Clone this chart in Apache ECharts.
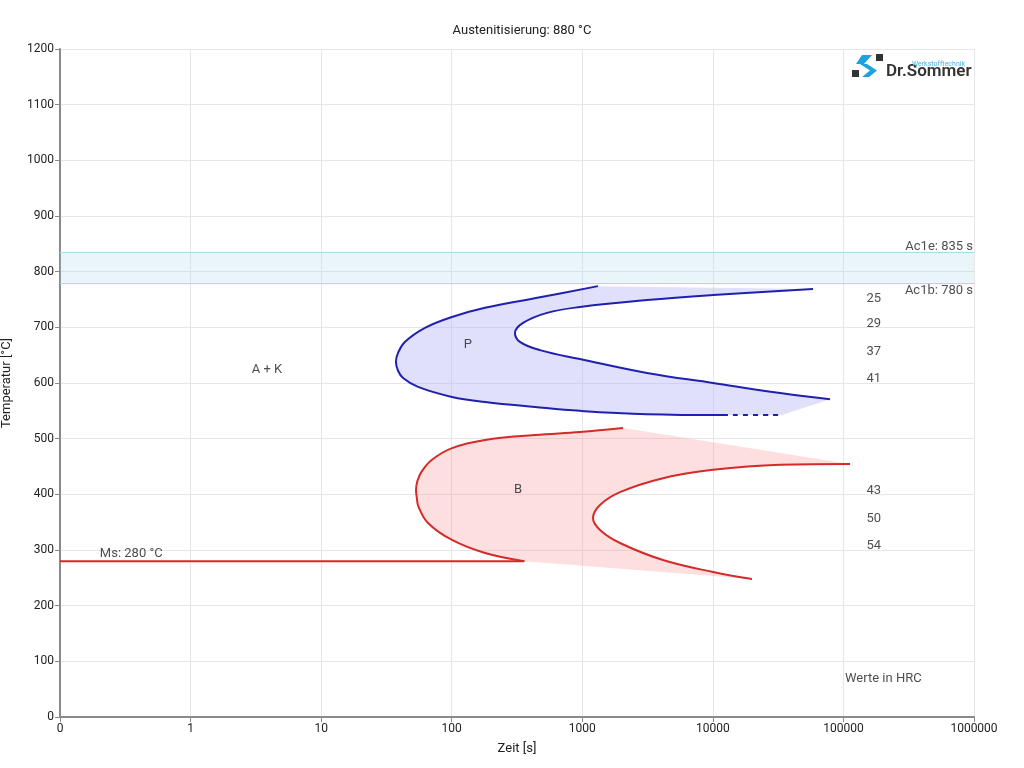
<!DOCTYPE html>
<html>
<head>
<meta charset="utf-8">
<title>ZTU Diagramm</title>
<script src="https://cdn.jsdelivr.net/npm/echarts@6/dist/echarts.min.js"></script>
<style>
  html, body { margin: 0; padding: 0; background: #fff; }
  #chart { width: 1024px; height: 768px; }
</style>
</head>
<body>
<div id="chart"></div>
<script>
// Perlit: Beginn (aussen) und Ende (innen), [Zeit s, Temperatur °C]
var perlitStart = [[1320, 774], [474, 754], [180, 735], [100.5, 718.6], [62.4, 699], [43.9, 674], [38.8, 654],
  [37.4, 638], [38.8, 622], [42.4, 609], [55.2, 593], [100.5, 575], [180, 566], [434, 557], [961, 550],
  [3130, 544], [11960, 542.5]];
var perlitDash = [[11960, 542.5], [33870, 542.5]];
var perlitEnde = [[58500, 769], [10030, 758], [3130, 749], [961, 736.5], [537, 726], [352, 708], [305, 690],
  [333, 674], [474, 659], [961, 643], [3130, 618], [10030, 600], [32700, 582], [78900, 571]];

// Bainit: Beginn und Ende
var bainitStart = [[2050, 519], [961, 512], [434, 506.6], [180, 497.6], [100.5, 483], [70.6, 462], [58.5, 440],
  [54.6, 424], [53.3, 408], [54.1, 393], [55.6, 378], [65.8, 348.5], [100.5, 318], [180, 294.6], [360, 280]];
var bainitEnde = [[112200, 454.5], [32700, 453], [10030, 444], [4150, 429], [1945, 404], [1367, 381],
  [1208, 357.5], [1367, 336], [1945, 312.6], [4150, 282], [10030, 260.5], [19950, 248]];

// Martensitstart
var msLinie = [[0.1, 280], [360, 280]];

// Ac1 Bereich
var ac1b = 780;
var ac1e = 835;

// Haertewerte HRC
var hrcZeit = 150000;
var hrcTemp = [752, 706, 657, 607, 406, 357, 307];
var hrcWert = ['25', '29', '37', '41', '43', '50', '54'];

// Beschriftungen [Text, Zeit, Temperatur]
var gebiete = [['A + K', 3.85, 623], ['P', 133, 668], ['B', 322, 408]];

var blau = '#2020b0';
var rot = '#d42a2a';
var schrift = 'Roboto, sans-serif';
var textFarbe = '#222';

var myChart = echarts.init(document.getElementById('chart'));

// Flaechen: Start-Kurve hin, Ende-Kurve zurueck
var perlitFlaeche = perlitStart.concat([perlitDash[1]], perlitEnde.slice().reverse());
var bainitFlaeche = bainitStart.concat(bainitEnde.slice().reverse());

var labelDaten = [];
hrcTemp.forEach(function (t, i) {
  labelDaten.push({ value: [hrcZeit, t], name: hrcWert[i], label: { position: 'right', distance: 0 } });
});
gebiete.forEach(function (g) {
  labelDaten.push({ value: [g[1], g[2]], name: g[0], label: { position: 'inside' } });
});
labelDaten.push({ value: [0.202, 294], name: 'Ms: 280 °C', label: { position: 'right', distance: 0 } });
labelDaten.push({ value: [102800, 68], name: 'Werte in HRC', label: { position: 'right', distance: 0 } });
labelDaten.push({ value: [1000000, 844], name: 'Ac1e: ' + ac1e + ' s', label: { position: 'left', distance: 1 } });
labelDaten.push({ value: [1000000, 765], name: 'Ac1b: ' + ac1b + ' s', label: { position: 'left', distance: 1 } });

function linie(daten, farbe, typ) {
  return {
    type: 'line',
    data: daten,
    smooth: 0.4,
    symbol: 'none',
    silent: true,
    z: 3,
    lineStyle: { color: farbe, width: 2, type: typ || 'solid' }
  };
}

var option = {
  backgroundColor: '#fff',
  animation: false,
  textStyle: { fontFamily: schrift },
  title: {
    text: 'Austenitisierung: 880 °C',
    left: 517,
    top: 19,
    textAlign: 'center',
    textStyle: { fontSize: 13, fontWeight: 'normal', color: textFarbe, fontFamily: schrift }
  },
  grid: { left: 60, right: 50, top: 49, bottom: 51, containLabel: false, outerBoundsMode: 'none' },
  xAxis: {
    type: 'log',
    logBase: 10,
    min: 0.1,
    max: 1000000,
    name: 'Zeit [s]',
    nameLocation: 'middle',
    nameGap: 25,
    nameTextStyle: { fontSize: 13, color: textFarbe },
    axisLine: { show: true, lineStyle: { color: '#8a8a8a', width: 2 } },
    axisTick: { show: true, length: 5, lineStyle: { color: '#8a8a8a' } },
    axisLabel: {
      fontSize: 12,
      color: textFarbe,
      margin: 6,
      formatter: function (v) { return v < 1 ? '0' : String(Math.round(v)); }
    },
    splitLine: { show: true, lineStyle: { color: '#e6e6e6' } }
  },
  yAxis: {
    type: 'value',
    min: 0,
    max: 1200,
    interval: 100,
    name: 'Temperatur [°C]',
    nameLocation: 'middle',
    nameGap: 47,
    nameTextStyle: { fontSize: 13, color: textFarbe },
    axisLine: { show: true, lineStyle: { color: '#8a8a8a', width: 2 } },
    axisTick: { show: true, length: 5, lineStyle: { color: '#8a8a8a' } },
    axisLabel: {
      fontSize: 12,
      color: textFarbe,
      margin: 6,
      formatter: function (v) { return String(v); }
    },
    splitLine: { show: true, lineStyle: { color: '#e6e6e6' } }
  },
  graphic: [
    { type: 'rect', shape: { x: 876, y: 54, width: 7, height: 7 }, style: { fill: '#333' } },
    { type: 'rect', shape: { x: 852, y: 70, width: 7, height: 7 }, style: { fill: '#333' } },
    { type: 'polygon', shape: { points: [[862, 55], [872, 55], [864, 64], [856, 64]] }, style: { fill: '#1aa3e0' } },
    { type: 'polygon', shape: { points: [[860, 64], [867, 64], [877, 70.5], [869, 77], [862, 77], [870, 70.5]] }, style: { fill: '#1aa3e0' } },
    {
      type: 'text', left: 886, top: 63,
      style: { text: 'Dr.Sommer', fill: '#333', font: '600 17px Roboto, sans-serif' }
    },
    {
      type: 'text', right: 59, top: 61,
      style: { text: 'Werkstofftechnik', fill: '#4ab4e0', font: '7px Roboto, sans-serif' }
    }
  ],
  series: [
    {
      type: 'custom',
      silent: true,
      z: 1,
      data: [[1, 500]],
      renderItem: function (params, api) {
        return {
          type: 'group',
          children: [
            {
              type: 'polygon',
              shape: { points: perlitFlaeche.map(function (p) { return api.coord(p); }) },
              style: { fill: 'rgba(180,180,245,0.42)' }
            },
            {
              type: 'polygon',
              shape: { points: bainitFlaeche.map(function (p) { return api.coord(p); }) },
              style: { fill: 'rgba(248,150,150,0.3)' }
            }
          ]
        };
      }
    },
    {
      type: 'line',
      data: [],
      silent: true,
      markArea: {
        silent: true,
        itemStyle: { color: 'rgba(173,216,230,0.25)' },
        data: [[{ yAxis: ac1b }, { yAxis: ac1e }]]
      },
      markLine: {
        silent: true,
        symbol: 'none',
        label: { show: false },
        lineStyle: { color: '#a6dde6', width: 1, type: 'solid' },
        data: [{ yAxis: ac1b }, { yAxis: ac1e }]
      }
    },
    linie(perlitStart, blau),
    linie(perlitEnde, blau),
    linie(perlitDash, blau, [5, 5]),
    linie(bainitStart, rot),
    linie(bainitEnde, rot),
    linie(msLinie, rot),
    {
      type: 'scatter',
      symbolSize: 0,
      silent: true,
      z: 5,
      data: labelDaten,
      label: {
        show: true,
        fontSize: 13,
        color: textFarbe,
        fontFamily: schrift,
        formatter: function (p) { return p.name; }
      }
    }
  ]
};
myChart.setOption(option);
</script>
</body>
</html>
